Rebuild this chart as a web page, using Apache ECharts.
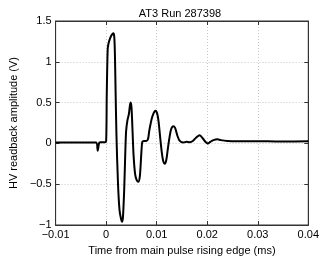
<!DOCTYPE html>
<html>
<head>
<meta charset="utf-8">
<title>AT3 Run 287398</title>
<script src="https://cdn.jsdelivr.net/npm/echarts@6/dist/echarts.min.js"></script>
<style>
  html, body { margin: 0; padding: 0; background: #fff; }
  #chart { width: 322px; height: 261px; }
</style>
</head>
<body>
<div id="chart"></div>
<script>
// time axis (ms)
const timeMs = [
  -0.01, -0.0065, -0.0035, -0.00198, -0.00167, -0.00142, -0.00123, -0.00025, 0,
  0.00012, 0.00031, 0.00049, 0.0008, 0.00111, 0.00142, 0.0016, 0.00173, 0.00185,
  0.00204, 0.00235, 0.00265, 0.00296, 0.00315, 0.00333, 0.00358, 0.00377, 0.00395,
  0.0042, 0.0045, 0.00481, 0.005, 0.00519, 0.00543, 0.00574, 0.00605, 0.00636,
  0.00667, 0.00698, 0.00716, 0.00747, 0.0079, 0.00827, 0.00852, 0.00883, 0.00914,
  0.00957, 0.00981, 0.01012, 0.01037, 0.01068, 0.01099, 0.0113, 0.0116, 0.01191,
  0.01222, 0.01253, 0.01284, 0.01327, 0.01364, 0.01407, 0.01457, 0.0153, 0.01593,
  0.01654, 0.01716, 0.01778, 0.01852, 0.01914, 0.01963, 0.02012, 0.02062, 0.02123,
  0.02198, 0.0227, 0.02395, 0.0258, 0.02889, 0.03198, 0.03506, 0.04
]
// HV readback amplitude (V)
const amplitudeV = [
  0.01, 0.01, 0.012, 0.01, -0.09, 0.0, 0.015, 0.015, 0.03,
  0.6, 1.16, 1.23, 1.29, 1.33, 1.35, 1.31, 1.1, 0.7,
  0.1, -0.5, -0.82, -0.93, -0.96, -0.9, -0.55, -0.15, 0.15,
  0.28, 0.36, 0.5, 0.45, 0.2, -0.15, -0.38, -0.45, -0.47,
  -0.4, -0.1, 0.02, 0.03, 0.03, 0.05, 0.15, 0.25, 0.33,
  0.39, 0.4, 0.36, 0.27, 0.08, -0.1, -0.22, -0.25, -0.2,
  -0.06, 0.07, 0.17, 0.21, 0.19, 0.1, 0.03, 0.01, 0.02,
  0.015, 0.03, 0.07, 0.1, 0.06, 0.02, 0.0, 0.02, 0.04,
  0.05, 0.04, 0.03, 0.025, 0.025, 0.025, 0.023, 0.025
]
const xTicks = { min: -0.01, max: 0.04, step: 0.01 }
const yTicks = { min: -1, max: 1.5, step: 0.5 }

const fontFamily = '"Liberation Sans", Arial, sans-serif'
const fmt = v => {
  const r = Math.round(v * 1000) / 1000
  return (r < 0 ? '\u2212' : '') + String(Math.abs(r))
}

const chart = echarts.init(document.getElementById('chart'), null, { renderer: 'canvas' })

const gridLine = { show: true, lineStyle: { color: '#c8c8c8', type: [1, 2], width: 1 } }
const tickIn = { show: true, inside: true, length: 4, lineStyle: { color: '#333' } }
const boxLine = { show: true, onZero: false, lineStyle: { color: '#333' } }

chart.setOption({
  animation: false,
  backgroundColor: '#fff',
  title: {
    text: 'AT3 Run 287398',
    left: 175,
    top: 3,
    textAlign: 'center',
    textStyle: { fontFamily, fontSize: 11, fontWeight: 'normal', color: '#000' }
  },
  grid: {
    left: 40, right: 12, top: 21, bottom: 28,
    show: true, borderColor: '#333', borderWidth: 1, backgroundColor: '#fff'
  },
  xAxis: [{
    type: 'value',
    min: xTicks.min, max: xTicks.max, interval: xTicks.step,
    name: 'Time from main pulse rising edge (ms)',
    nameLocation: 'middle', nameGap: 20,
    nameTextStyle: { fontFamily, fontSize: 11, color: '#000' },
    axisLine: boxLine,
    axisTick: tickIn,
    splitLine: gridLine,
    axisLabel: { fontFamily, fontSize: 11, color: '#000', margin: 4, formatter: fmt }
  }, {
    type: 'value', position: 'top',
    min: xTicks.min, max: xTicks.max, interval: xTicks.step,
    axisLine: boxLine,
    axisTick: tickIn, axisLabel: { show: false }, splitLine: { show: false }
  }],
  yAxis: [{
    type: 'value',
    min: yTicks.min, max: yTicks.max, interval: yTicks.step,
    name: 'HV readback amplitude (V)',
    nameLocation: 'middle', nameGap: 28,
    nameTextStyle: { fontFamily, fontSize: 11, color: '#000' },
    axisLine: boxLine,
    axisTick: tickIn,
    splitLine: gridLine,
    axisLabel: { fontFamily, fontSize: 11, color: '#000', margin: 4, formatter: fmt }
  }, {
    type: 'value', position: 'right',
    min: yTicks.min, max: yTicks.max, interval: yTicks.step,
    axisLine: boxLine,
    axisTick: tickIn, axisLabel: { show: false }, splitLine: { show: false }
  }],
  series: [{
    type: 'line',
    xAxisIndex: 0, yAxisIndex: 0,
    data: timeMs.map((t, i) => [t, amplitudeV[i]]),
    smooth: 0.3,
    symbol: 'none',
    lineStyle: { color: '#000', width: 2 }
  }]
})
</script>
</body>
</html>
